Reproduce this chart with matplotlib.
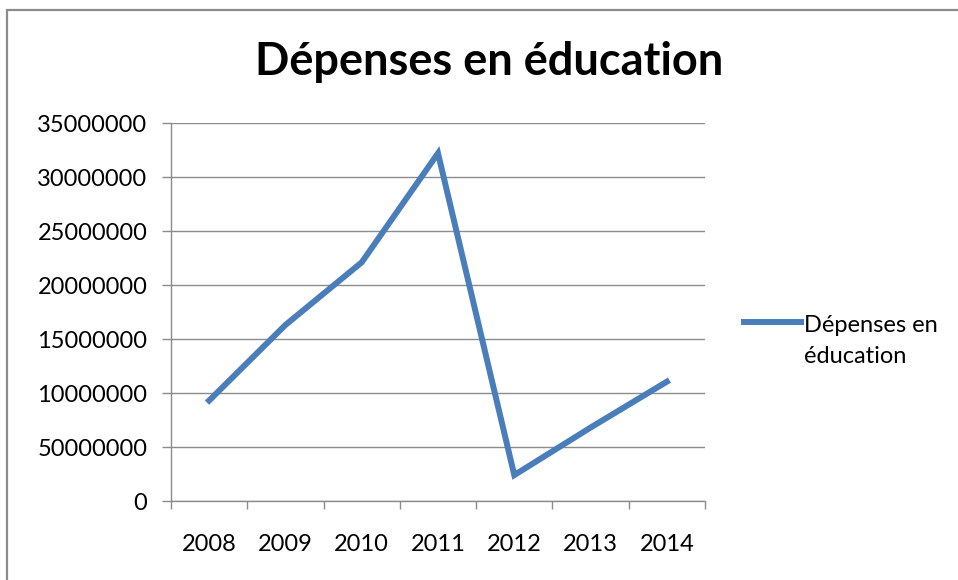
import numpy as np
import matplotlib
matplotlib.use("Agg")
import matplotlib.pyplot as plt
from matplotlib.patches import Rectangle
from matplotlib.legend_handler import HandlerLine2D

# data
years = ["2008", "2009", "2010", "2011", "2012", "2013", "2014"]
depenses = [9300000, 16300000, 22100000, 32200000, 2400000, 6800000, 11050000]
ytick_values = [0, 5000000, 10000000, 15000000, 20000000, 25000000, 30000000, 35000000]
ytick_labels = ["0", "50000000", "10000000", "15000000", "20000000",
                "25000000", "30000000", "35000000"]
title = "Dépenses en éducation"
series_label = "Dépenses en\néducation"

plt.rcParams['font.family'] = ['Lato', 'DejaVu Sans']

W, H = 958, 580
fig = plt.figure(figsize=(W / 100, H / 100), dpi=100)

# outer chart frame (runs off the right and bottom edge)
fig.patches.append(Rectangle((7 / W, -0.1), 1.2, 1 - 10 / H + 0.1,
                             transform=fig.transFigure, fill=False,
                             edgecolor="#8c8c8c", linewidth=1.6))

ax = fig.add_axes([171 / W, (H - 501) / H, 534 / W, 378 / H])
x = np.arange(len(years))
line, = ax.plot(x, depenses, color="#4a7ebb", linewidth=4.3,
                solid_joinstyle="miter", label=series_label)

ax.set_xlim(-0.5, len(years) - 0.5)
ax.set_ylim(0, 35000000)

grid_c = "#8c8c8c"
ax.set_yticks(ytick_values)
ax.set_yticklabels(ytick_labels)
ax.yaxis.grid(True, color=grid_c, linewidth=1.0)
ax.set_axisbelow(True)

# category boundaries get the tick marks, labels sit at the centres
ax.set_xticks(np.arange(len(years) + 1) - 0.5)
ax.set_xticklabels([])
ax.set_xticks(x, minor=True)
ax.set_xticklabels(years, minor=True)
ax.tick_params(axis="x", which="major", length=6, width=1, color=grid_c,
               direction="out")
ax.tick_params(axis="x", which="minor", length=0, pad=24, labelsize=17)
ax.tick_params(axis="y", length=6.5, width=1, color=grid_c, direction="out",
               pad=10.5, labelsize=17)

for s in ["top", "right"]:
    ax.spines[s].set_visible(False)
for s in ["left", "bottom"]:
    ax.spines[s].set_color(grid_c)
    ax.spines[s].set_linewidth(1.0)

fig.text(489 / W, 1 - 62 / H, title, ha="center", va="center",
         fontsize=32.5, fontweight="bold")


class TopLineHandler(HandlerLine2D):
    # put the legend line beside the first line of a two-line label
    def create_artists(self, legend, orig_handle, xdescent, ydescent,
                       width, height, fontsize, trans):
        return super().create_artists(legend, orig_handle, xdescent,
                                      ydescent - 1.6 * fontsize, width,
                                      height, fontsize, trans)


leg = fig.legend(handles=[line], loc="upper left",
                 bbox_to_anchor=(744 / W, 1 - 315 / H), frameon=False,
                 fontsize=17, handlelength=2.4, handletextpad=0.15,
                 borderpad=0, borderaxespad=0,
                 handler_map={line: TopLineHandler()})
for t in leg.get_texts():
    t.set_linespacing(1.6)

fig.savefig("out.png", dpi=100)
